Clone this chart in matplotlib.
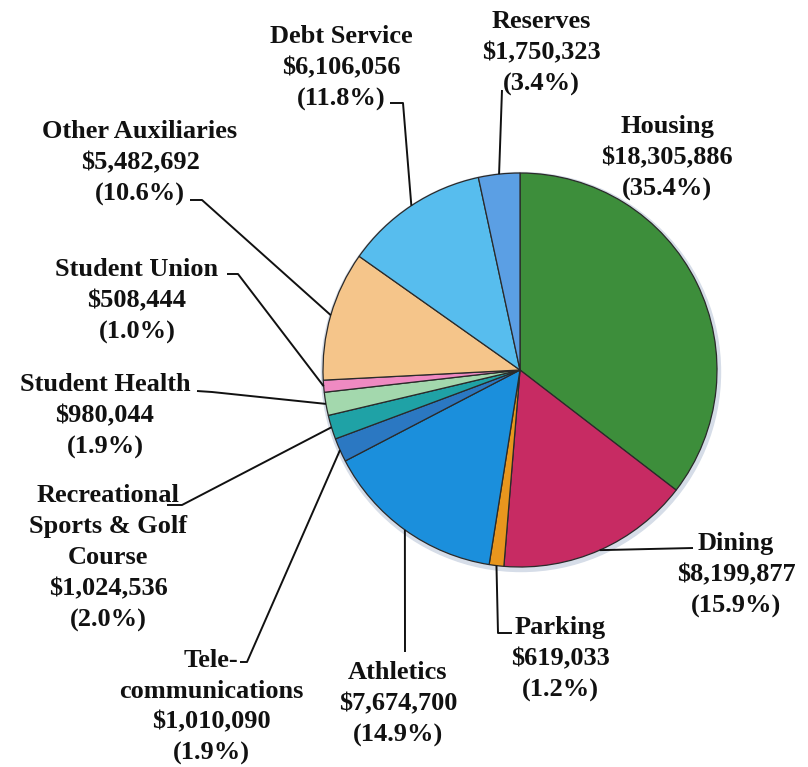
import numpy as np
import matplotlib
matplotlib.use("Agg")
import matplotlib.pyplot as plt

# budget by area, clockwise from 12 o'clock
names = ["Housing", "Dining", "Parking", "Athletics", "Telecommunications",
         "Recreational Sports & Golf Course", "Student Health", "Student Union",
         "Other Auxiliaries", "Debt Service", "Reserves"]
amounts = [18305886, 8199877, 619033, 7674700, 1010090, 1024536,
           980044, 508444, 5482692, 6106056, 1750323]
pcts = ["35.4%", "15.9%", "1.2%", "14.9%", "1.9%", "2.0%",
        "1.9%", "1.0%", "10.6%", "11.8%", "3.4%"]
label_lines = [["Housing"], ["Dining"], ["Parking"], ["Athletics"],
               ["Tele-", "communications"],
               ["Recreational", "Sports & Golf", "Course"],
               ["Student Health"], ["Student Union"], ["Other Auxiliaries"],
               ["Debt Service"], ["Reserves"]]
colors = ["#3d8e3b", "#c72b63", "#e8961e", "#1b8fdc", "#2b78c2", "#1fa2a6",
          "#a3d8ad", "#ef8ac2", "#f5c58a", "#57bdee", "#5b9fe4"]

W, H = 808, 767
fig = plt.figure(figsize=(W / 100, H / 100), dpi=100)
ax = fig.add_axes([0, 0, 1, 1])

cx, cy, R = 520, H - 370, 197

# faint shadow ring like the original
ax.add_patch(plt.Circle((cx + 1, cy - 2), R + 2.5, color="#d6dde8", zorder=0))

wedges, _ = ax.pie(amounts, colors=colors, startangle=90, counterclock=False,
                   center=(cx, cy), radius=R,
                   wedgeprops=dict(edgecolor="#2a2a2a", linewidth=0.9))
ax.set_xlim(0, W)
ax.set_ylim(0, H)
ax.set_aspect("equal")
ax.axis("off")

# label block centre (x, y from top) and leader start path (image px)
text_pos = [(667, 158), (736, 575), (560, 659), (398, 704), (211, 707),
            (108, 558), (105, 416), (137, 301), (140, 163), (341, 68), (541, 53)]
leaders = [None,
           [(693, 548)],
           [(512, 633), (498, 633)],
           [(405, 652)],
           [(240, 662), (247, 662)],
           [(167, 505), (182, 505)],
           [(197, 391), (212, 392)],
           [(227, 274), (238, 274)],
           [(190, 200), (202, 200)],
           [(390, 103), (403, 103)],
           [(502, 90)]]

font = dict(family="Liberation Serif", weight="bold", fontsize=19, color="#111111")

for i, w in enumerate(wedges):
    lines = label_lines[i] + ["${:,}".format(amounts[i]), "(" + pcts[i] + ")"]
    tx, ty = text_pos[i]
    ax.text(tx, H - ty, "\n".join(lines), ha="center", va="center",
            linespacing=1.44, **font)
    if leaders[i] is None:
        continue
    mid = np.deg2rad((w.theta1 + w.theta2) / 2)
    end = (cx + R * np.cos(mid), cy + R * np.sin(mid))
    xs = [p[0] for p in leaders[i]] + [end[0]]
    ys = [H - p[1] for p in leaders[i]] + [end[1]]
    ax.plot(xs, ys, color="#111111", lw=1.4, solid_capstyle="butt")

fig.savefig("out.png", dpi=100, facecolor="white")
